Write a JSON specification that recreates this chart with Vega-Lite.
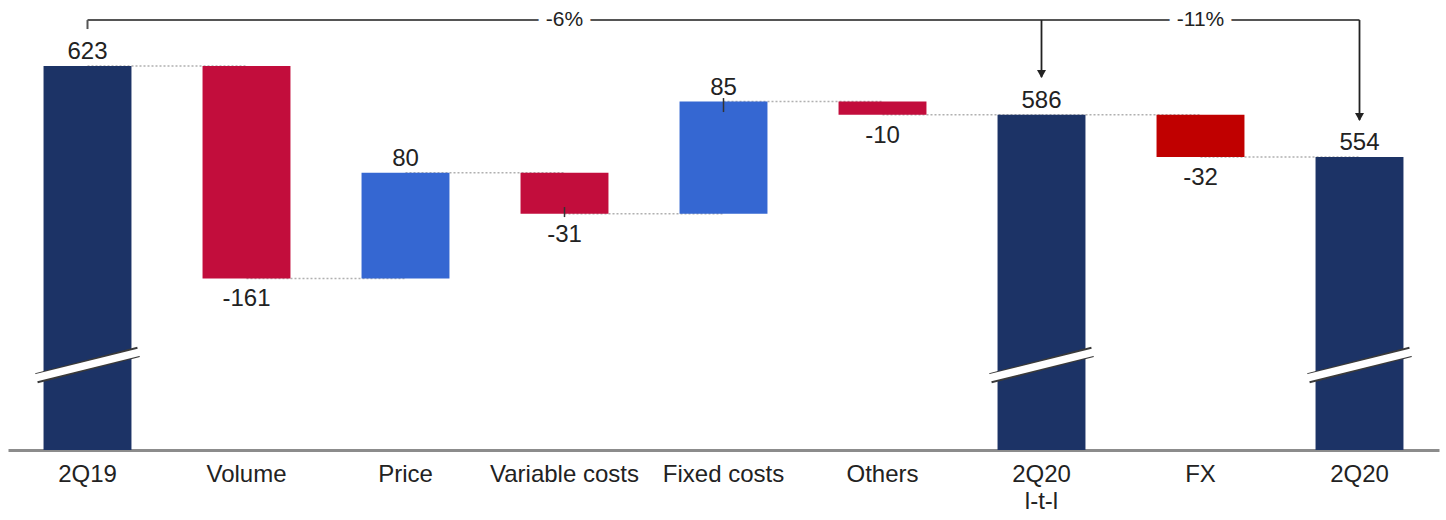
{
  "$schema": "https://vega.github.io/schema/vega-lite/v6.json",
  "width": 1431,
  "height": 450,
  "autosize": {"type": "none"},
  "padding": {"left": 8, "top": 0, "right": 7, "bottom": 70},
  "background": "white",
  "config": {"view": {"stroke": null}, "font": "Liberation Sans", "text": {"font": "Liberation Sans"}},
  "datasets": {
    "bars": [
      {"cat": "2Q19", "start": 332, "end": 623, "kind": "total", "val": "623", "pos": "up"},
      {"cat": "Volume", "start": 623, "end": 462, "kind": "neg", "val": "-161", "pos": "down"},
      {"cat": "Price", "start": 462, "end": 542, "kind": "pos", "val": "80", "pos": "up"},
      {"cat": "Variable costs", "start": 542, "end": 511, "kind": "neg", "val": "-31", "pos": "down"},
      {"cat": "Fixed costs", "start": 511, "end": 596, "kind": "pos", "val": "85", "pos": "up"},
      {"cat": "Others", "start": 596, "end": 586, "kind": "neg", "val": "-10", "pos": "down"},
      {"cat": "2Q20|l-t-l", "start": 332, "end": 586, "kind": "total", "val": "586", "pos": "up"},
      {"cat": "FX", "start": 586, "end": 554, "kind": "fx", "val": "-32", "pos": "down"},
      {"cat": "2Q20", "start": 332, "end": 554, "kind": "total", "val": "554", "pos": "up"}
    ],
    "conn": [
      {"cat": "2Q19", "next": "Volume", "y": 623},
      {"cat": "Volume", "next": "Price", "y": 462},
      {"cat": "Price", "next": "Variable costs", "y": 542},
      {"cat": "Variable costs", "next": "Fixed costs", "y": 511},
      {"cat": "Fixed costs", "next": "Others", "y": 596},
      {"cat": "Others", "next": "2Q20|l-t-l", "y": 586},
      {"cat": "2Q20|l-t-l", "next": "FX", "y": 586},
      {"cat": "FX", "next": "2Q20", "y": 554}
    ],
    "breaks": [
      {"cat": "2Q19", "yl": 386.4, "yr": 406.3},
      {"cat": "2Q20|l-t-l", "yl": 386.4, "yr": 406.3},
      {"cat": "2Q20", "yl": 386.4, "yr": 406.3}
    ],
    "ticks": [
      {"cat": "Fixed costs", "y": 598.7, "y2": 588.1},
      {"cat": "Variable costs", "y": 516.1, "y2": 508.5}
    ],
    "bracket": [
      {"cat": "2Q19", "next": "2Q20", "y": 657.8}
    ],
    "startTick": [
      {"cat": "2Q19", "y": 657.8, "y2": 651}
    ],
    "drops": [
      {"cat": "2Q20|l-t-l", "y": 657.8, "y2": 614.5},
      {"cat": "2Q20", "y": 657.8, "y2": 582}
    ],
    "heads": [
      {"cat": "2Q20|l-t-l", "y": 613.9},
      {"cat": "2Q20", "y": 581.3}
    ],
    "pct": [
      {"cat": "Variable costs", "y": 657.8, "t": "-6%"},
      {"cat": "FX", "y": 657.8, "t": "-11%"}
    ]
  },
  "encoding": {
    "x": {
      "field": "cat",
      "type": "nominal",
      "sort": null,
      "scale": {
        "domain": ["2Q19", "Volume", "Price", "Variable costs", "Fixed costs", "Others", "2Q20|l-t-l", "FX", "2Q20"],
        "paddingInner": 0.447,
        "paddingOuter": 0.2235
      },
      "axis": {
        "title": null,
        "domainColor": "#8c8c8c",
        "domainWidth": 3,
        "ticks": false,
        "labelFontSize": 24,
        "labelFont": "Liberation Sans",
        "labelColor": "#222222",
        "labelPadding": 12,
        "labelAngle": 0,
        "labelLineHeight": 27,
        "labelExpr": "split(datum.label, '|')"
      }
    }
  },
  "layer": [
    {
      "data": {"name": "conn"},
      "mark": {"type": "rule", "stroke": "#b0b0b0", "strokeWidth": 1.5, "strokeDash": [2, 2]},
      "encoding": {
        "x2": {"field": "next"},
        "y": {"field": "y", "type": "quantitative", "scale": {"domain": [332, 673], "nice": false, "zero": false}, "axis": null}
      }
    },
    {
      "data": {"name": "bars"},
      "mark": {"type": "bar"},
      "encoding": {
        "y": {"field": "end", "type": "quantitative", "axis": null},
        "y2": {"field": "start"},
        "color": {
          "field": "kind",
          "type": "nominal",
          "scale": {"domain": ["total", "neg", "pos", "fx"], "range": ["#1C3366", "#C20D3C", "#3567D2", "#C00000"]},
          "legend": null
        }
      }
    },
    {
      "data": {"name": "breaks"},
      "mark": {"type": "rule", "stroke": "#3a3a3a", "strokeWidth": 10.5, "xOffset": -51, "x2Offset": 51},
      "encoding": {
        "x2": {"field": "cat"},
        "y": {"field": "yl", "type": "quantitative", "axis": null},
        "y2": {"field": "yr"}
      }
    },
    {
      "data": {"name": "breaks"},
      "mark": {"type": "rule", "stroke": "white", "strokeWidth": 7.5, "xOffset": -53, "x2Offset": 53},
      "encoding": {
        "x2": {"field": "cat"},
        "y": {"field": "yl", "type": "quantitative", "axis": null},
        "y2": {"field": "yr"}
      }
    },
    {
      "data": {"name": "ticks"},
      "mark": {"type": "rule", "stroke": "#333333", "strokeWidth": 1.5},
      "encoding": {
        "y": {"field": "y", "type": "quantitative", "axis": null},
        "y2": {"field": "y2"}
      }
    },
    {
      "data": {"name": "bars"},
      "transform": [{"filter": "datum.pos == 'up'"}],
      "mark": {"type": "text", "fontSize": 24, "baseline": "alphabetic", "dy": -7, "color": "#222222"},
      "encoding": {
        "y": {"field": "end", "type": "quantitative", "axis": null},
        "text": {"field": "val"}
      }
    },
    {
      "data": {"name": "bars"},
      "transform": [{"filter": "datum.pos == 'down'"}],
      "mark": {"type": "text", "fontSize": 24, "baseline": "alphabetic", "dy": 28, "color": "#222222"},
      "encoding": {
        "y": {"field": "end", "type": "quantitative", "axis": null},
        "text": {"field": "val"}
      }
    },
    {
      "data": {"name": "bracket"},
      "mark": {"type": "rule", "stroke": "#555555", "strokeWidth": 2},
      "encoding": {
        "x2": {"field": "next"},
        "y": {"field": "y", "type": "quantitative", "axis": null}
      }
    },
    {
      "data": {"name": "startTick"},
      "mark": {"type": "rule", "stroke": "#555555", "strokeWidth": 2},
      "encoding": {
        "y": {"field": "y", "type": "quantitative", "axis": null},
        "y2": {"field": "y2"}
      }
    },
    {
      "data": {"name": "drops"},
      "mark": {"type": "rule", "stroke": "#222222", "strokeWidth": 1.8},
      "encoding": {
        "y": {"field": "y", "type": "quantitative", "axis": null},
        "y2": {"field": "y2"}
      }
    },
    {
      "data": {"name": "heads"},
      "mark": {"type": "point", "shape": "triangle-down", "size": 81, "filled": true, "color": "#222222", "opacity": 1, "yOffset": -4},
      "encoding": {
        "y": {"field": "y", "type": "quantitative", "axis": null}
      }
    },
    {
      "data": {"name": "pct"},
      "mark": {"type": "text", "fontSize": 21, "baseline": "middle", "fill": "white", "stroke": "white", "strokeWidth": 16, "strokeJoin": "round"},
      "encoding": {
        "y": {"field": "y", "type": "quantitative", "axis": null},
        "text": {"field": "t"}
      }
    },
    {
      "data": {"name": "pct"},
      "mark": {"type": "text", "fontSize": 21, "baseline": "middle", "color": "#222222"},
      "encoding": {
        "y": {"field": "y", "type": "quantitative", "axis": null},
        "text": {"field": "t"}
      }
    }
  ]
}
